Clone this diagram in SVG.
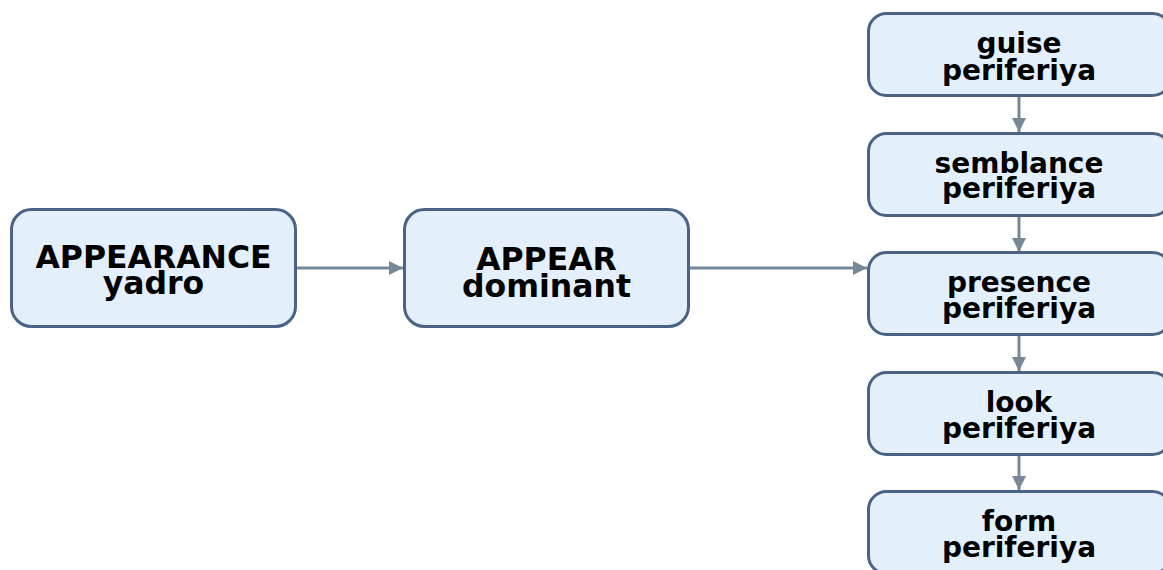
<svg xmlns="http://www.w3.org/2000/svg" width="1163" height="570" viewBox="0 0 1163 570">
  <style>
    .box { fill: #e3f0fc; stroke: #4a6385; stroke-width: 3; }
    .edge { stroke: #778899; stroke-width: 3; fill: none; }
    .big { font-family: "DejaVu Sans", sans-serif; font-weight: bold; font-size: 31.5px; text-anchor: middle; fill: #000; }
    .small { font-family: "DejaVu Sans", sans-serif; font-weight: bold; font-size: 28px; text-anchor: middle; fill: #000; }
  </style>
  <defs>
    <marker id="arrow" viewBox="0 0 10 10" refX="10" refY="5" markerWidth="4.8" markerHeight="4.8" markerUnits="strokeWidth" orient="auto">
      <path d="M0,0 L10,5 L0,10 z" fill="#778899"/>
    </marker>
  </defs>

  <rect width="1163" height="570" fill="#ffffff"/>

  <g id="connectors">
    <line class="edge" x1="297" y1="268" x2="403" y2="268" marker-end="url(#arrow)"/>
    <line class="edge" x1="690" y1="268" x2="867" y2="268" marker-end="url(#arrow)"/>
    <line class="edge" x1="1019" y1="97" x2="1019" y2="132" marker-end="url(#arrow)"/>
    <line class="edge" x1="1019" y1="216" x2="1019" y2="252" marker-end="url(#arrow)"/>
    <line class="edge" x1="1019" y1="336" x2="1019" y2="371" marker-end="url(#arrow)"/>
    <line class="edge" x1="1019" y1="455" x2="1019" y2="490" marker-end="url(#arrow)"/>
  </g>

  <g id="appearance">
    <rect class="box" x="11.5" y="209.5" width="284" height="117" rx="20"/>
    <text class="big" x="153.5" y="268">APPEARANCE</text>
    <text class="big" x="153.5" y="294">yadro</text>
  </g>

  <g id="appear">
    <rect class="box" x="404.5" y="209.5" width="284" height="117" rx="20"/>
    <text class="big" x="546.5" y="270">APPEAR</text>
    <text class="big" x="546.5" y="297">dominant</text>
  </g>

  <g id="guise">
    <rect class="box" x="868.5" y="13.5" width="302" height="82" rx="18"/>
    <text class="small" x="1019" y="53">guise</text>
    <text class="small" x="1019" y="80">periferiya</text>
  </g>

  <g id="semblance">
    <rect class="box" x="868.5" y="133.5" width="302" height="82" rx="18"/>
    <text class="small" x="1019" y="173">semblance</text>
    <text class="small" x="1019" y="198">periferiya</text>
  </g>

  <g id="presence">
    <rect class="box" x="868.5" y="252.5" width="302" height="82" rx="18"/>
    <text class="small" x="1019" y="292">presence</text>
    <text class="small" x="1019" y="318">periferiya</text>
  </g>

  <g id="look">
    <rect class="box" x="868.5" y="372.5" width="302" height="82" rx="18"/>
    <text class="small" x="1019" y="412">look</text>
    <text class="small" x="1019" y="438">periferiya</text>
  </g>

  <g id="form">
    <rect class="box" x="868.5" y="491.5" width="302" height="82" rx="18"/>
    <text class="small" x="1019" y="531">form</text>
    <text class="small" x="1019" y="557">periferiya</text>
  </g>
</svg>
